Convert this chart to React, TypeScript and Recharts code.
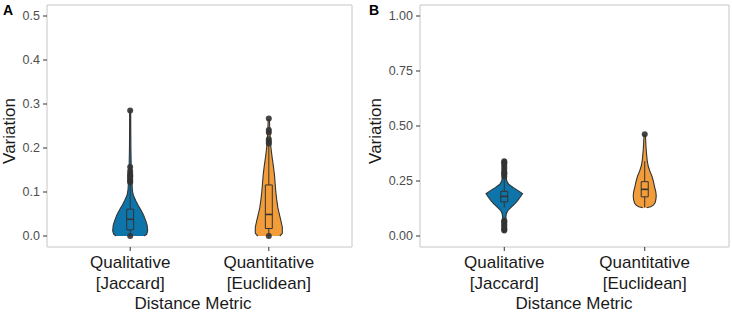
import React from 'react'
import { ScatterChart, Scatter, XAxis, YAxis, ReferenceArea } from 'recharts'

// categories on the x axis (positions 1 and 2)
const categories = [
    ['Qualitative', '[Jaccard]'],
    ['Quantitative', '[Euclidean]'],
]
const ticksA = [0, 0.1, 0.2, 0.3, 0.4, 0.5]
const ticksB = [0, 0.25, 0.5, 0.75, 1]

// panel A - qualitative: violin profile (y, relative density)
const qualAY = [0, 0.004, 0.012, 0.025, 0.035, 0.048, 0.06, 0.07, 0.08, 0.093, 0.105, 0.12, 0.14, 0.16, 0.2, 0.24, 0.285]
const qualADensity = [0.78, 0.92, 0.97, 0.94, 0.86, 0.74, 0.58, 0.44, 0.31, 0.17, 0.12, 0.1, 0.072, 0.056, 0.04, 0.033, 0.028]
// lower whisker, q1, median, q3, upper whisker
const qualABox = [0, 0.014, 0.038, 0.061, 0.12]
const qualAOutliers = [0, 0.122, 0.125, 0.128, 0.132, 0.135, 0.138, 0.142, 0.148, 0.157, 0.285]

// panel A - quantitative
const quantAY = [0, 0.006, 0.02, 0.035, 0.05, 0.065, 0.082, 0.1, 0.12, 0.14, 0.16, 0.18, 0.2, 0.22, 0.24, 0.265]
const quantADensity = [0.61, 0.75, 0.75, 0.67, 0.58, 0.5, 0.44, 0.39, 0.35, 0.31, 0.25, 0.18, 0.12, 0.083, 0.056, 0.033]
const quantABox = [0, 0.017, 0.049, 0.116, 0.205]
const quantAOutliers = [0, 0.21, 0.215, 0.22, 0.235, 0.241, 0.267]

// panel B - qualitative
const qualBY = [0.02, 0.05, 0.08, 0.1, 0.115, 0.13, 0.145, 0.16, 0.175, 0.192, 0.205, 0.22, 0.235, 0.25, 0.27, 0.29, 0.31, 0.33, 0.345]
const qualBDensity = [0.044, 0.067, 0.083, 0.11, 0.19, 0.37, 0.56, 0.72, 0.86, 1.0, 0.78, 0.5, 0.24, 0.14, 0.1, 0.083, 0.067, 0.056, 0.033]
const qualBBox = [0.13, 0.155, 0.18, 0.203, 0.26]
const qualBOutliers = [0.025, 0.03, 0.035, 0.045, 0.05, 0.06, 0.065, 0.07, 0.27, 0.28, 0.285, 0.29, 0.3, 0.31, 0.32, 0.33, 0.335, 0.34]

// panel B - quantitative
const quantBY = [0.128, 0.133, 0.14, 0.15, 0.165, 0.182, 0.2, 0.227, 0.25, 0.273, 0.295, 0.318, 0.34, 0.364, 0.39, 0.41, 0.44, 0.462]
const quantBDensity = [0.11, 0.33, 0.47, 0.56, 0.61, 0.63, 0.61, 0.53, 0.47, 0.39, 0.28, 0.19, 0.14, 0.11, 0.083, 0.067, 0.05, 0.033]
const quantBBox = [0.13, 0.178, 0.212, 0.247, 0.34]
const quantBOutliers = [0.462]

const BLUE = '#0e75ab'
const ORANGE = '#f29c3a'
const DARK = '#333333'
const HALF_WIDTH = 0.13
const BOX_HALF = 0.025

type Pt = { x: number; y: number }

const violinOutline = (pos: number, ys: number[], dens: number[]): Pt[] => {
    const right = ys.map((y, i) => ({ x: pos + dens[i] * HALF_WIDTH, y }))
    const left = ys.map((y, i) => ({ x: pos - dens[i] * HALF_WIDTH, y })).reverse()
    return [...right, ...left]
}

const boxOutline = (pos: number, box: number[]): Pt[] => [
    { x: pos - BOX_HALF, y: box[1] },
    { x: pos + BOX_HALF, y: box[1] },
    { x: pos + BOX_HALF, y: box[3] },
    { x: pos - BOX_HALF, y: box[3] },
    { x: pos - BOX_HALF, y: box[1] },
]

const noDot = () => <g />
const outlierDot = (p: any) => <circle cx={p.cx} cy={p.cy} r={3} fill={DARK} fillOpacity={0.9} />

const CategoryTick = (props: any) => {
    const { x, y, payload } = props
    const lines = categories[Math.round(payload.value) - 1]
    if (!lines) return <g />
    return (
        <g>
            <text x={x} y={y + 17} textAnchor={'middle'} fontSize={17} fill={'#1a1a1a'}>
                {lines[0]}
            </text>
            <text x={x} y={y + 38} textAnchor={'middle'} fontSize={17} fill={'#1a1a1a'}>
                {lines[1]}
            </text>
        </g>
    )
}

interface Violin {
    pos: number
    ys: number[]
    dens: number[]
    box: number[]
    outliers: number[]
    color: string
}

interface PanelProps {
    letter: string
    ticks: number[]
    digits: number
    yWidth: number
    right: number
    titleX: number
    violins: Violin[]
}

const Panel: React.FC<PanelProps> = ({ letter, ticks, digits, yWidth, right, titleX, violins }) => {
    const pad = (ticks[ticks.length - 1] - ticks[0]) * 0.05
    const domain: [number, number] = [ticks[0] - pad, ticks[ticks.length - 1] + pad]
    return (
        <div style={{ position: 'relative', width: 366, height: 312 }}>
            <ScatterChart width={366} height={312} margin={{ top: 5, right, bottom: 0, left: 0 }}>
                <XAxis
                    type={'number'}
                    dataKey={'x'}
                    domain={[0.4, 2.6]}
                    ticks={[1, 2]}
                    interval={0}
                    allowDataOverflow
                    axisLine={false}
                    tickLine={{ stroke: DARK }}
                    tickSize={4}
                    tickMargin={0}
                    height={65}
                    tick={(p: any) => <CategoryTick {...p} />}
                    label={{
                        content: () => (
                            <text x={titleX} y={309} textAnchor={'middle'} fontSize={17} fill={'#1a1a1a'}>
                                Distance Metric
                            </text>
                        ),
                    }}
                />
                <YAxis
                    type={'number'}
                    dataKey={'y'}
                    domain={domain}
                    ticks={ticks}
                    interval={0}
                    allowDataOverflow
                    axisLine={false}
                    tickLine={{ stroke: DARK }}
                    tickSize={4}
                    tickMargin={3}
                    width={yWidth}
                    tick={{ fill: '#4d4d4d', fontSize: 12.5 }}
                    tickFormatter={(v: number) => v.toFixed(digits)}
                    label={{
                        content: () => (
                            <text
                                x={15}
                                y={131}
                                transform={'rotate(-90, 15, 131)'}
                                textAnchor={'middle'}
                                fontSize={17}
                                fill={'#1a1a1a'}
                            >
                                Variation
                            </text>
                        ),
                    }}
                />
                <ReferenceArea
                    x1={0.4}
                    x2={2.6}
                    y1={domain[0]}
                    y2={domain[1]}
                    fill={'none'}
                    stroke={'#c6c6c6'}
                    strokeWidth={1}
                    ifOverflow={'visible'}
                />
                {violins.map(v => (
                    <Scatter
                        key={`violin-${v.pos}`}
                        data={violinOutline(v.pos, v.ys, v.dens)}
                        line={{ stroke: DARK, strokeWidth: 1.1, fill: v.color }}
                        shape={noDot}
                        isAnimationActive={false}
                    />
                ))}
                {violins.map(v => (
                    <Scatter
                        key={`whisker-${v.pos}`}
                        data={[
                            { x: v.pos, y: v.box[0] },
                            { x: v.pos, y: v.box[4] },
                        ]}
                        line={{ stroke: DARK, strokeWidth: 1 }}
                        shape={noDot}
                        isAnimationActive={false}
                    />
                ))}
                {violins.map(v => (
                    <Scatter
                        key={`box-${v.pos}`}
                        data={boxOutline(v.pos, v.box)}
                        line={{ stroke: DARK, strokeWidth: 1, fill: v.color }}
                        shape={noDot}
                        isAnimationActive={false}
                    />
                ))}
                {violins.map(v => (
                    <Scatter
                        key={`median-${v.pos}`}
                        data={[
                            { x: v.pos - BOX_HALF, y: v.box[2] },
                            { x: v.pos + BOX_HALF, y: v.box[2] },
                        ]}
                        line={{ stroke: DARK, strokeWidth: 1.6 }}
                        shape={noDot}
                        isAnimationActive={false}
                    />
                ))}
                {violins.map(v => (
                    <Scatter
                        key={`outliers-${v.pos}`}
                        data={v.outliers.map(y => ({ x: v.pos, y }))}
                        shape={outlierDot}
                        isAnimationActive={false}
                    />
                ))}
            </ScatterChart>
            <div
                style={{
                    position: 'absolute',
                    left: 3,
                    top: 2,
                    fontSize: 14,
                    fontWeight: 'bold',
                    color: '#000',
                    lineHeight: '16px',
                }}
            >
                {letter}
            </div>
        </div>
    )
}

export default function App() {
    return (
        <div
            style={{
                position: 'absolute',
                left: 0,
                top: 0,
                width: 732,
                height: 312,
                display: 'flex',
                background: '#fff',
                fontFamily: '"Liberation Sans", Arial, sans-serif',
            }}
        >
            <Panel
                letter={'A'}
                ticks={ticksA}
                digits={1}
                yWidth={47}
                right={14}
                titleX={193}
                violins={[
                    { pos: 1, ys: qualAY, dens: qualADensity, box: qualABox, outliers: qualAOutliers, color: BLUE },
                    { pos: 2, ys: quantAY, dens: quantADensity, box: quantABox, outliers: quantAOutliers, color: ORANGE },
                ]}
            />
            <Panel
                letter={'B'}
                ticks={ticksB}
                digits={2}
                yWidth={54}
                right={3}
                titleX={208}
                violins={[
                    { pos: 1, ys: qualBY, dens: qualBDensity, box: qualBBox, outliers: qualBOutliers, color: BLUE },
                    { pos: 2, ys: quantBY, dens: quantBDensity, box: quantBBox, outliers: quantBOutliers, color: ORANGE },
                ]}
            />
        </div>
    )
}
